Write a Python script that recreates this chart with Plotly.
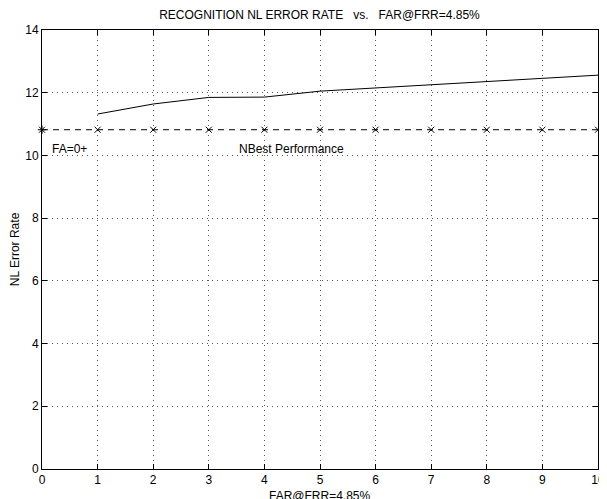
import plotly.graph_objects as go

far = [1, 2, 3, 4, 5, 6, 7, 8, 9, 10]
nl_error = [11.32, 11.64, 11.85, 11.86, 12.05, 12.15, 12.25, 12.35, 12.45, 12.56]
nbest_x = [1, 2, 3, 4, 5, 6, 7, 8, 9, 10]
nbest_y = [10.82] * 10
fa0_x = [0]
fa0_y = [10.82]
x_ticks = list(range(0, 11))
y_ticks = [0, 2, 4, 6, 8, 10, 12, 14]

fnt = dict(family="Liberation Sans, Arial, Helvetica, sans-serif", size=12, color="black")

fig = go.Figure()
fig.add_trace(go.Scatter(x=far, y=nl_error, mode="lines",
                         line=dict(color="black", width=1), showlegend=False))
fig.add_trace(go.Scatter(x=[0] + nbest_x, y=fa0_y + nbest_y, mode="lines",
                         line=dict(color="black", width=1, dash="6px,5px"), showlegend=False))
fig.add_trace(go.Scatter(x=nbest_x, y=nbest_y, mode="markers",
                         marker=dict(symbol="x-thin", size=6, line=dict(color="black", width=1)),
                         showlegend=False, cliponaxis=False))
fig.add_trace(go.Scatter(x=fa0_x, y=fa0_y, mode="markers",
                         marker=dict(symbol="asterisk", size=7, line=dict(color="black", width=1)),
                         showlegend=False, cliponaxis=False))

fig.add_annotation(x=0.15, y=10.2, text="FA=0+", showarrow=False, xanchor="left",
                   yanchor="middle", font=fnt)
fig.add_annotation(x=3.5, y=10.2, text="NBest Performance", showarrow=False, xanchor="left",
                   yanchor="middle", font=fnt)
fig.add_annotation(x=0.5, xref="paper", y=-0.062, yref="paper", text="FAR@FRR=4.85%",
                   showarrow=False, xanchor="center", yanchor="middle", font=fnt)

axis_common = dict(showline=True, linecolor="black", linewidth=1, mirror="ticks",
                   ticks="inside", ticklen=5, tickcolor="black",
                   showgrid=True, gridcolor="#555555", griddash="1px,4px", gridwidth=1,
                   zeroline=False, tickfont=fnt, automargin=False)

fig.update_layout(
    width=599, height=491,
    paper_bgcolor="white", plot_bgcolor="white",
    margin=dict(l=34, r=9, t=22, b=30),
    font=fnt,
    title=dict(text="RECOGNITION NL ERROR RATE   vs.   FAR@FRR=4.85%", x=0.52, xanchor="center",
               y=0.986, yanchor="middle", font=fnt),
    xaxis=dict(range=[0, 10], tickvals=x_ticks, **axis_common),
    yaxis=dict(range=[0, 14], tickvals=y_ticks,
               title=dict(text="NL Error Rate", standoff=10, font=fnt), **axis_common),
)

fig.write_html("out.html")
